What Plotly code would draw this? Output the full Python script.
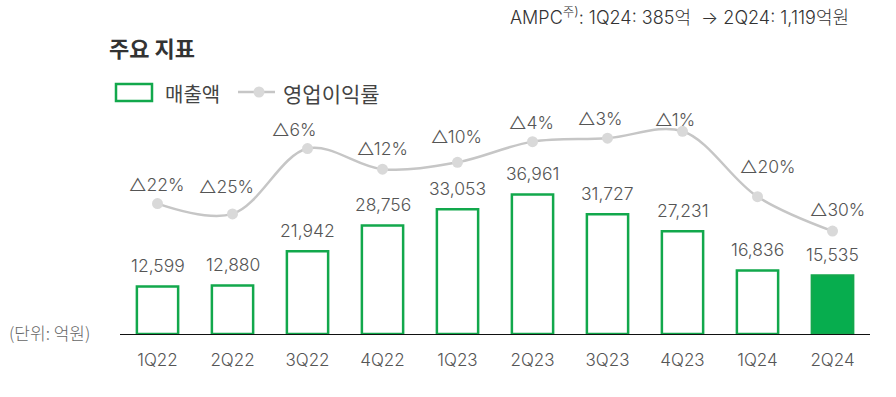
import plotly.graph_objects as go

categories = ["1Q22", "2Q22", "3Q22", "4Q22", "1Q23", "2Q23", "3Q23", "4Q23", "1Q24", "2Q24"]
revenue = [12599, 12880, 21942, 28756, 33053, 36961, 31727, 27231, 16836, 15535]
op_margin = [-22, -25, -6, -12, -10, -4, -3, -1, -20, -30]
margin_labels = ["△22%", "△25%", "△6%", "△12%", "△10%", "△4%", "△3%", "△1%", "△20%", "△30%"]

# label nudges (pixels) for the margin labels
nudge_x = [-1, -6, -14, 0, -1, -1, -8, -8, 10, 5]
nudge_y = [19, 27, 19, 21, 26, 19, 20, 12, 30, 22]

GREEN = "#12a84c"
FONT = "Inter, 'Noto Sans CJK KR', sans-serif"
KFONT = "'Noto Sans CJK KR', sans-serif"
TXT = "#555555"
LW = 300

W, H = 896, 397
ML, MR, MT, MB = 120, 26, 100, 63
PW, PH = W - ML - MR, H - MT - MB


def px(xp):
    return (xp - ML) / PW


def py(yp):
    return (H - MB - yp) / PH


fill_colors = ["white"] * (len(categories) - 1) + ["#07ad4e"]

fig = go.Figure()
fig.add_trace(go.Bar(
    x=categories, y=revenue, width=0.55,
    marker=dict(color=fill_colors, line=dict(color=GREEN, width=2.5)),
    name="매출액", showlegend=False, hoverinfo="skip",
))
fig.add_trace(go.Scatter(
    x=categories, y=op_margin, yaxis="y2", mode="lines+markers",
    line=dict(color="#c6c6c6", width=2.5, shape="spline", smoothing=1.0),
    marker=dict(color="#d9d9d9", size=11),
    name="영업이익률", showlegend=False, hoverinfo="skip",
))

annotations = []
for c, v in zip(categories, revenue):
    annotations.append(dict(
        x=c, y=v, xref="x", yref="y", text=f"{v:,}", showarrow=False,
        yanchor="middle", yshift=21, font=dict(family=FONT, size=17.5, color=TXT, weight=LW),
    ))
for c, v, t, dx, dy in zip(categories, op_margin, margin_labels, nudge_x, nudge_y):
    annotations.append(dict(
        x=c, y=v, xref="x", yref="y2", text=t, showarrow=False,
        yanchor="middle", xshift=dx, yshift=dy,
        font=dict(family=FONT, size=17.5, color=TXT, weight=LW),
    ))

# title / notes / legend
annotations += [
    dict(x=px(107), y=py(47), xref="paper", yref="paper", text="<b>주요 지표</b>",
         showarrow=False, xanchor="left", yanchor="middle",
         font=dict(family=KFONT, size=22, color="#333333")),
    dict(x=px(851), y=py(16), xref="paper", yref="paper",
         text="AMPC<sup>주)</sup>: 1Q24: 385억  → 2Q24: 1,119억원",
         showarrow=False, xanchor="right", yanchor="middle",
         font=dict(family=FONT, size=18, color="#333333", weight=LW)),
    dict(x=px(7), y=py(332), xref="paper", yref="paper", text="(단위: 억원)",
         showarrow=False, xanchor="left", yanchor="middle",
         font=dict(family=KFONT, size=17, color="#666666", weight=LW)),
    dict(x=px(163), y=py(93), xref="paper", yref="paper", text="매출액",
         showarrow=False, xanchor="left", yanchor="middle",
         font=dict(family=KFONT, size=20, color="#444444")),
    dict(x=px(281), y=py(93), xref="paper", yref="paper", text="영업이익률",
         showarrow=False, xanchor="left", yanchor="middle",
         font=dict(family=KFONT, size=21, color="#444444")),
]

shapes = [
    dict(type="rect", xref="paper", yref="paper",
         x0=px(116), x1=px(152), y0=py(101), y1=py(84),
         line=dict(color=GREEN, width=2.5), fillcolor="white"),
    dict(type="line", xref="paper", yref="paper",
         x0=px(238), x1=px(275), y0=py(92), y1=py(92),
         line=dict(color="#c6c6c6", width=2.5)),
    dict(type="circle", xref="paper", yref="paper",
         x0=px(253.5), x1=px(264.5), y0=py(97.5), y1=py(86.5),
         line=dict(color="#d9d9d9", width=0), fillcolor="#d9d9d9"),
]

fig.update_layout(
    width=W, height=H,
    margin=dict(l=ML, r=MR, t=MT, b=MB),
    paper_bgcolor="white", plot_bgcolor="white",
    font=dict(family=FONT, color=TXT),
    showlegend=False,
    xaxis=dict(
        type="category", range=[-0.5, 9.5], showgrid=False, zeroline=False,
        showline=True, linecolor="#111111", linewidth=1,
        ticks="outside", ticklen=11, tickcolor="rgba(0,0,0,0)",
        tickfont=dict(family=FONT, size=17, color=TXT, weight=LW),
    ),
    yaxis=dict(range=[0, 234 / 0.003772], visible=False, showgrid=False, zeroline=False),
    yaxis2=dict(range=[-59.9, 8.1], overlaying="y", visible=False,
                showgrid=False, zeroline=False),
    annotations=annotations,
    shapes=shapes,
)

fig.write_html("out.html", config={"displayModeBar": False},
               post_script="document.body.style.margin='0';document.body.style.padding='0';")
